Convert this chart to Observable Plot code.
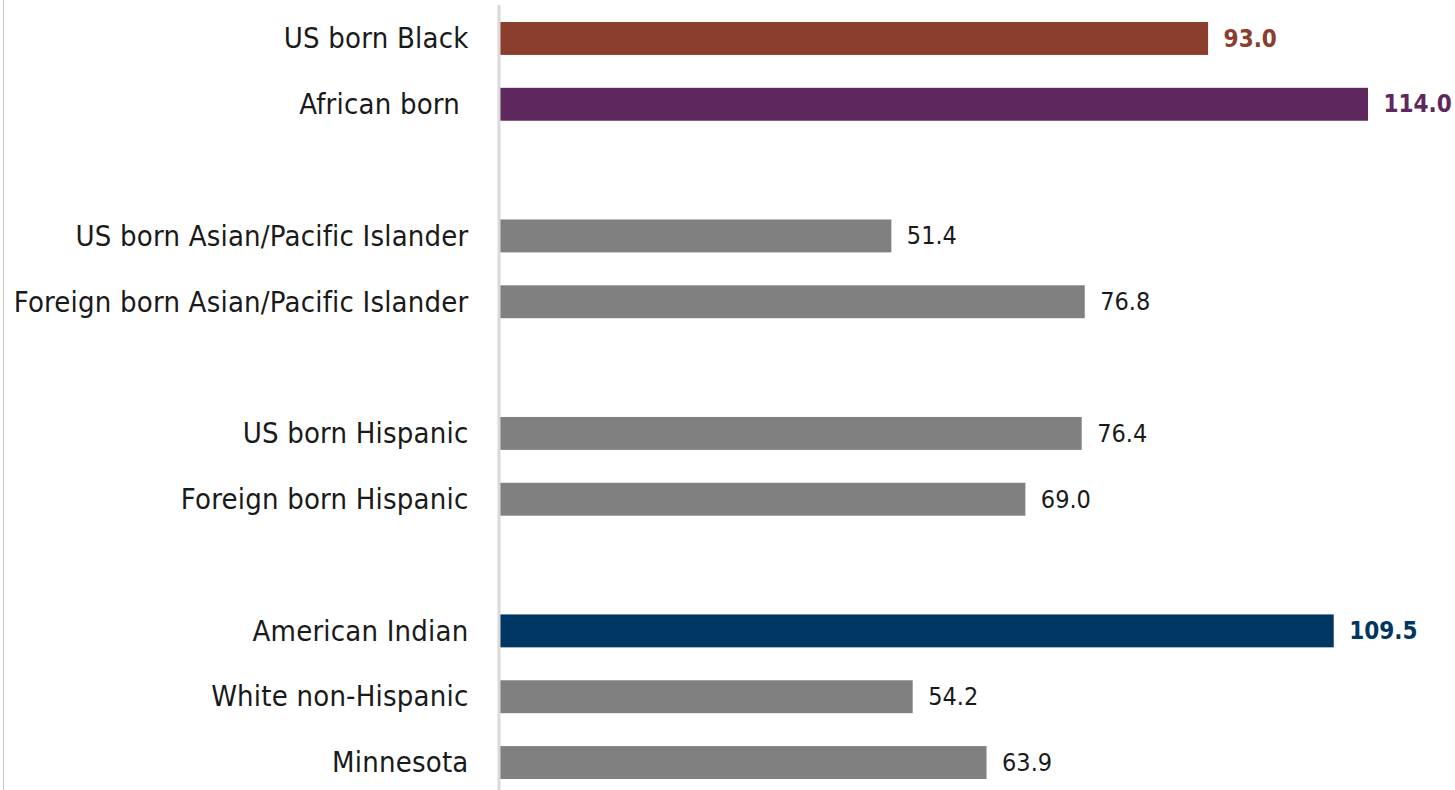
<!DOCTYPE html>
<html>
<head>
<meta charset="utf-8">
<script src="https://cdn.jsdelivr.net/npm/d3@7"></script>
<script src="https://cdn.jsdelivr.net/npm/@observablehq/plot@0.6"></script>
<style>
  html, body { margin: 0; padding: 0; background: #fff; }
  #wrap { position: relative; width: 1455px; height: 790px; }
  #edge { position: absolute; left: 3px; top: 0; width: 1px; height: 790px; background: #c8c8c8; }
  #chart svg text { white-space: pre; }
</style>
</head>
<body>
<div id="wrap"><div id="edge"></div><div id="chart"></div></div>
<script>
// Rate by group, top to bottom
const categories = [
  "US born Black",
  "African born ",
  "US born Asian/Pacific Islander",
  "Foreign born Asian/Pacific Islander",
  "US born Hispanic",
  "Foreign born Hispanic",
  "American Indian",
  "White non-Hispanic",
  "Minnesota"
];
const values = [93.0, 114.0, 51.4, 76.8, 76.4, 69.0, 109.5, 54.2, 63.9];
const barColors = ["#8b3d2e", "#5e285e", "#808080", "#808080", "#808080", "#808080", "#003662", "#808080", "#808080"];
const highlighted = [true, true, false, false, false, false, true, false, false];
// An empty row follows each of these categories
const gapAfter = ["African born ", "Foreign born Asian/Pacific Islander", "Foreign born Hispanic"];

const rows = categories.map((c, i) => ({
  category: c,
  value: values[i],
  color: barColors[i],
  bold: highlighted[i]
}));

const domain = [];
categories.forEach((c, i) => {
  domain.push(c);
  if (gapAfter.includes(c)) domain.push("gap" + i);
});

const font = "'Liberation Sans Narrow', 'Arial Narrow', 'DejaVu Sans Condensed', sans-serif";

const chart = Plot.plot({
  width: 1455,
  height: 790,
  marginLeft: 500,
  marginRight: 87,
  marginTop: 22,
  marginBottom: 11,
  style: { fontFamily: font, background: "transparent" },
  x: { domain: [0, 114], axis: null },
  y: { domain, paddingInner: 0.5, paddingOuter: 0, round: false, label: null },
  marks: [
    Plot.barX(rows, { y: "category", x: "value", fill: "color" }),
    Plot.ruleX([0], { stroke: "#d9d9d9", strokeWidth: 3, dx: -1.5, insetTop: -17, insetBottom: -11 }),
    Plot.axisY({
      tickSize: 0,
      tickPadding: 32,
      fontSize: 29,
      fill: "#1a1a1a",
      tickFormat: d => d.startsWith("gap") ? "" : d
    }),
    Plot.text(rows.filter(d => !d.bold), {
      y: "category", x: "value", text: d => d.value.toFixed(1),
      dx: 15, textAnchor: "start", fontSize: 25, fill: "#1a1a1a"
    }),
    Plot.text(rows.filter(d => d.bold), {
      y: "category", x: "value", text: d => d.value.toFixed(1),
      dx: 15, textAnchor: "start", fontSize: 24, fontWeight: "bold", fill: "color"
    })
  ]
});

d3.select(chart).selectAll("[aria-label='y-axis tick label'] text").style("letter-spacing", "0.2px");
document.getElementById("chart").append(chart);
</script>
</body>
</html>
